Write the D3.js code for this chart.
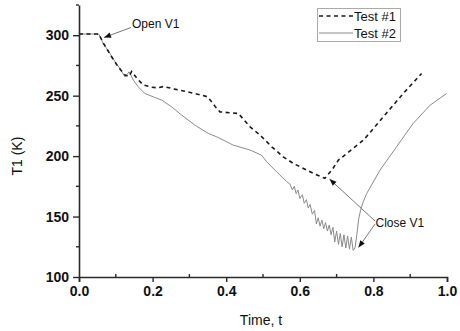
<!DOCTYPE html>
<html>
<head>
<meta charset="utf-8">
<script src="https://cdn.jsdelivr.net/npm/d3@7"></script>
<style>
  body { margin: 0; background: #fff; }
  svg { display: block; font-family: "Liberation Sans", Arial, sans-serif; }
</style>
</head>
<body>
<div id="chart"></div>
<script>
// values
const test1T = [0, 0.054, 0.065, 0.089, 0.106, 0.125, 0.136, 0.143, 0.157, 0.174, 0.197, 0.215, 0.23, 0.26, 0.297, 0.333, 0.35, 0.37, 0.383, 0.433, 0.465, 0.492, 0.524, 0.555, 0.582, 0.61, 0.637, 0.668, 0.687, 0.705, 0.773, 0.827, 0.881, 0.931];
const test1V = [301, 301, 294, 282, 274, 267, 266, 270, 264.5, 259, 257, 256.5, 257.6, 255.4, 253, 250.4, 249, 241, 236.6, 235.3, 224.2, 217.4, 207.7, 199.4, 194, 189.8, 185.7, 181.6, 188.4, 196.7, 213.2, 232.5, 251.8, 268.3];

const test2T = [0, 0.054, 0.066, 0.084, 0.098, 0.111, 0.125, 0.136, 0.148, 0.161, 0.179, 0.202, 0.225, 0.252, 0.279, 0.315, 0.351, 0.374, 0.419, 0.465, 0.496, 0.51, 0.537, 0.564,
  0.573, 0.58, 0.585, 0.59, 0.595, 0.6, 0.607, 0.612, 0.618, 0.623, 0.628, 0.634, 0.64, 0.645, 0.65, 0.655, 0.66, 0.665, 0.67, 0.675, 0.68, 0.685, 0.69, 0.695, 0.70, 0.705, 0.71, 0.715, 0.72, 0.725, 0.73, 0.735, 0.74, 0.745, 0.75,
  0.755, 0.76, 0.765, 0.772, 0.782, 0.818, 0.863, 0.908, 0.954, 0.999];
const test2V = [301, 301, 293, 285, 278, 272.5, 265.5, 269.7, 262.8, 257.3, 251.8, 249, 246.3, 240.7, 233.9, 225.6, 218.8, 216, 209.1, 205, 200.8, 195.3, 187, 179,
  177, 172, 175, 169, 172, 165, 168, 161, 164, 157, 160, 152, 155, 144, 149, 142, 147, 140, 145, 138, 143, 135, 141, 129, 138, 127, 136, 125, 135, 124, 134, 123, 133, 122, 124,
  135, 148, 155, 162, 169.2, 188.4, 207.7, 227, 242.1, 251.8];

const xTicks = [0, 0.2, 0.4, 0.6, 0.8, 1.0];
const xMinor = [0.1, 0.3, 0.5, 0.7, 0.9];
const yTicks = [100, 150, 200, 250, 300];
const yMinor = [125, 175, 225, 275, 325];
const seriesNames = ["Test #1", "Test #2"];

const width = 460, height = 331;

const svg = d3.select("#chart").append("svg")
    .attr("width", width)
    .attr("height", height);

const x = d3.scaleLinear().domain([0, 1]).range([79, 447]);
const y = d3.scaleLinear().domain([100, 325]).range([277, 5]);

const axisColor = "#2a2a2a";

// arrowhead
svg.append("defs").append("marker")
    .attr("id", "arrow")
    .attr("viewBox", "0 0 10 10")
    .attr("refX", 10)
    .attr("refY", 5)
    .attr("markerWidth", 8)
    .attr("markerHeight", 7)
    .attr("markerUnits", "userSpaceOnUse")
    .attr("orient", "auto")
    .append("path")
    .attr("d", "M0,1 L10,5 L0,9 z")
    .attr("fill", "#111");

// x axis
const xAxis = svg.append("g")
    .attr("transform", `translate(0,${y(100)})`)
    .call(d3.axisBottom(x).tickValues(xTicks).tickFormat(d3.format(".1f")).tickSize(5).tickPadding(4));
xAxis.select(".domain").attr("stroke", axisColor).attr("stroke-width", 1.6);
xAxis.selectAll(".tick line").attr("stroke", axisColor).attr("stroke-width", 1.4);
xAxis.selectAll(".tick text")
    .attr("font-size", 14).attr("font-weight", "bold").attr("fill", "#111")
    .attr("font-family", "'Liberation Sans', Arial, sans-serif");

svg.append("g").selectAll("line")
    .data(xMinor)
    .join("line")
    .attr("x1", d => x(d)).attr("x2", d => x(d))
    .attr("y1", y(100)).attr("y2", y(100) - 3)
    .attr("stroke", axisColor).attr("stroke-width", 1.4);

// y axis
const yAxis = svg.append("g")
    .attr("transform", `translate(${x(0)},0)`)
    .call(d3.axisLeft(y).tickValues(yTicks).tickSize(6).tickPadding(4).tickSizeOuter(0));
yAxis.select(".domain").attr("stroke", axisColor).attr("stroke-width", 1.6);
yAxis.selectAll(".tick line").attr("stroke", axisColor).attr("stroke-width", 1.4);
yAxis.selectAll(".tick text")
    .attr("font-size", 14).attr("font-weight", "bold").attr("fill", "#111")
    .attr("font-family", "'Liberation Sans', Arial, sans-serif");

svg.append("g").selectAll("line")
    .data(yMinor)
    .join("line")
    .attr("x1", x(0)).attr("x2", x(0) - 3)
    .attr("y1", d => y(d)).attr("y2", d => y(d))
    .attr("stroke", axisColor).attr("stroke-width", 1.4);

// axis titles
svg.append("text")
    .attr("x", x(0.5) - 2)
    .attr("y", 325)
    .attr("text-anchor", "middle")
    .attr("font-size", 14)
    .attr("fill", "#111")
    .text("Time, t");

svg.append("text")
    .attr("transform", `translate(22,${y(200)}) rotate(-90)`)
    .attr("text-anchor", "middle")
    .attr("font-size", 14)
    .attr("fill", "#111")
    .text("T1 (K)");

// lines
const line = d3.line().x(d => x(d[0])).y(d => y(d[1]));

svg.append("path")
    .datum(d3.zip(test2T, test2V))
    .attr("fill", "none")
    .attr("stroke", "#8a8a8a")
    .attr("stroke-width", 1)
    .attr("d", line);

svg.append("path")
    .datum(d3.zip(test1T, test1V))
    .attr("fill", "none")
    .attr("stroke", "#1a1a1a")
    .attr("stroke-width", 1.6)
    .attr("stroke-dasharray", "4,3.5")
    .attr("d", line);

// annotations
const ann = svg.append("g").attr("font-size", 12).attr("fill", "#111");

ann.append("line")
    .attr("x1", 131).attr("y1", 27.5)
    .attr("x2", 104).attr("y2", 37.5)
    .attr("stroke", "#777").attr("stroke-width", 1)
    .attr("marker-end", "url(#arrow)");
ann.append("text").attr("x", 132).attr("y", 28).text("Open V1");

ann.append("line")
    .attr("x1", 375).attr("y1", 221)
    .attr("x2", 329.5).attr("y2", 179)
    .attr("stroke", "#777").attr("stroke-width", 1)
    .attr("marker-end", "url(#arrow)");
ann.append("line")
    .attr("x1", 375).attr("y1", 224)
    .attr("x2", 358.5).attr("y2", 247.5)
    .attr("stroke", "#777").attr("stroke-width", 1)
    .attr("marker-end", "url(#arrow)");
ann.append("text").attr("x", 375.5).attr("y", 227).text("Close V1");

// legend
const legend = svg.append("g");
legend.append("rect")
    .attr("x", 317.5).attr("y", 8.5)
    .attr("width", 83).attr("height", 33)
    .attr("fill", "#fff")
    .attr("stroke", "#aaa").attr("stroke-width", 1);

const legendRows = legend.selectAll("g.row")
    .data(seriesNames)
    .join("g")
    .attr("class", "row")
    .attr("transform", (d, i) => `translate(0,${16 + i * 17})`);

legendRows.append("line")
    .attr("x1", 319).attr("x2", 353)
    .attr("y1", 0).attr("y2", 0)
    .attr("stroke", (d, i) => i === 0 ? "#1a1a1a" : "#8a8a8a")
    .attr("stroke-width", (d, i) => i === 0 ? 1.6 : 1)
    .attr("stroke-dasharray", (d, i) => i === 0 ? "4,3.5" : null);

legendRows.append("text")
    .attr("x", 354)
    .attr("y", 4.5)
    .attr("font-size", 13)
    .attr("fill", "#111")
    .text(d => d);
</script>
</body>
</html>
